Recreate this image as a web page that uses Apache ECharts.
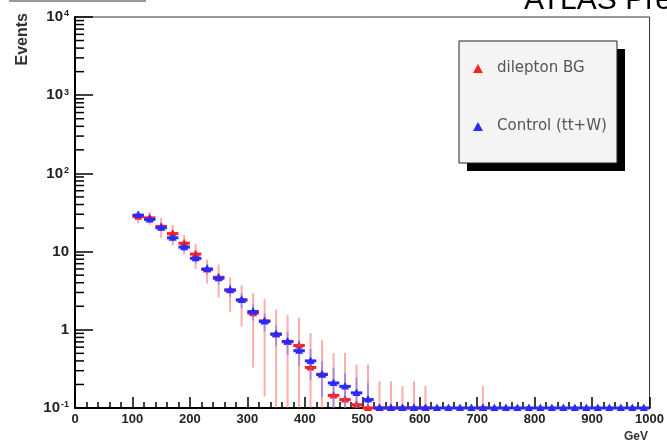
<!DOCTYPE html>
<html>
<head>
<meta charset="utf-8">
<script src="https://cdn.jsdelivr.net/npm/echarts@6/dist/echarts.min.js"></script>
<style>
html,body{margin:0;padding:0;background:#fff;}
#chart{width:667px;height:444px;}
</style>
</head>
<body>
<div id="chart"></div>
<script>
// ---- data ----
const binCenters = [110,130,150,170,190,210,230,250,270,290,310,330,350,370,390,410,430,450,470,490,
  510,530,550,570,590,610,630,650,670,690,710,730,750,770,790,810,830,850,870,890,910,930,950,970,990];
const binHalfWidth = 10;
const dileptonBG = [28,27,21,17,12.8,9.3,5.9,4.7,3.2,2.4,1.63,1.3,0.88,0.7,0.63,0.33,0.27,0.145,0.128,0.11,
  0.1,0.1,0.1,0.1,0.1,0.1,null,null,null,null,0.1,null,null,null,null,null,null,null,null,null,null,null,null,null,null];
const dileptonErr = [5,5,6,5,3.5,3.3,2,2.1,1.5,1.3,1.3,1.16,0.92,0.84,0.79,0.58,0.47,0.36,0.38,0.25,
  0.26,0.12,0.12,0.09,0.12,0.09,null,null,null,null,0.09,null,null,null,null,null,null,null,null,null,null,null,null,null,null];
const controlTTW = [29.3,25.8,20.2,15.0,11.4,8.2,6.0,4.56,3.24,2.41,1.71,1.28,0.88,0.71,0.54,0.40,0.267,0.209,0.189,0.156,
  0.128,0.1,0.1,0.1,0.1,0.1,0.1,0.1,0.1,0.1,0.1,0.1,0.1,0.1,0.1,0.1,0.1,0.1,0.1,0.1,0.1,0.1,0.1,0.1,0.1];
const controlErr = [2.5,2.3,2,1.7,1.4,1.1,0.9,0.75,0.6,0.5,0.4,0.33,0.26,0.23,0.2,0.17,0.13,0.12,0.09,0.09,
  0.08,0,0,0,0,0,0,0,0,0,0,0,0,0,0,0,0,0,0,0,0,0,0,0,0];
const seriesNames = ['dilepton BG', 'Control (tt+W)'];
const yTickValues = [0.1, 1, 10, 100, 1000, 10000];
const xTickLabels = ['0','100','200','300','400','500','600','700','800','900','1000'];
const yMin = 0.1, yMax = 10000;

// ---- helpers ----
function toData(vals, errs) {
  return binCenters.map((x, i) => vals[i] == null ? null : [x, vals[i], errs[i] || 0]).filter(Boolean);
}
function errRender(solid, light) {
  return function (params, api) {
    const x = api.value(0), v = api.value(1), e = api.value(2);
    const c = api.coord([x, v]);
    const l = api.coord([x - binHalfWidth, v]);
    const r = api.coord([x + binHalfWidth, v]);
    const hi = api.coord([x, Math.min(v + e, yMax)]);
    const lo = api.coord([x, Math.max(v - e, yMin)]);
    const children = [];
    if (e > 0) {
      children.push({type:'line', shape:{x1:c[0], y1:hi[1], x2:c[0], y2:lo[1]},
        style:{stroke:light, lineWidth:2}});
    }
    children.push({type:'line', shape:{x1:l[0], y1:c[1], x2:r[0], y2:c[1]},
      style:{stroke:solid, lineWidth:3}});
    children.push({type:'polygon', shape:{points:[[c[0], c[1]-4.5],[c[0]-4, c[1]+3],[c[0]+4, c[1]+3]]},
      style:{fill:solid}});
    return {type:'group', children};
  };
}
const yMinorTicks = [];
for (let k = -1; k < 4; k++) for (let m = 2; m <= 9; m++) yMinorTicks.push([0, m * Math.pow(10, k)]);

function yLabel(v) {
  const ex = Math.round(Math.log10(v));
  if (ex === 0) return '{b|1}';
  if (ex === 1) return '{b|10}';
  return '{b|10}{s|' + ex + '}';
}

const chart = echarts.init(document.getElementById('chart'), null, {renderer:'canvas'});
const fontF = '"Liberation Sans", Arial, sans-serif';
chart.setOption({
  backgroundColor: '#ffffff',
  animation: false,
  grid: {left:75, right:13, top:17, bottom:36, show:true, borderColor:'#333', borderWidth:1, backgroundColor:'transparent'},
  xAxis: {
    type:'value', min:0, max:1000, interval:100,
    axisLine:{show:true, onZero:false, lineStyle:{color:'#000', width:2}},
    axisTick:{show:true, inside:true, length:11, lineStyle:{color:'#000', width:1.5}},
    minorTick:{show:true, splitNumber:5, length:6, lineStyle:{color:'#000', width:1.5}},
    splitLine:{show:false},
    axisLabel:{margin:5, fontFamily:fontF, fontWeight:'bold', fontSize:13, color:'#222',
      formatter: (v) => xTickLabels[Math.round(v / 100)]}
  },
  yAxis: {
    type:'log', logBase:10, min:yMin, max:yMax,
    axisLine:{show:true, lineStyle:{color:'#000', width:2}},
    axisTick:{show:true, inside:true, length:18, lineStyle:{color:'#000', width:1.5}},
    splitLine:{show:false},
    axisLabel:{margin:6, formatter: yLabel,
      rich:{
        b:{fontFamily:fontF, fontWeight:'bold', fontSize:15, color:'#222'},
        s:{fontFamily:fontF, fontWeight:'bold', fontSize:9, color:'#222', verticalAlign:'top', padding:[0,0,0,1]}
      }}
  },
  legend: {
    data:[{name:seriesNames[0], icon:'triangle'},{name:seriesNames[1], icon:'triangle'}],
    orient:'vertical', left:473, top:61, padding:0, itemWidth:10, itemHeight:9, itemGap:43,
    selectedMode:false, z:10,
    textStyle:{fontFamily:'"DejaVu Sans", sans-serif', fontSize:15, color:'#555', padding:[0,0,0,9]}
  },
  graphic: [
    {type:'line', z:1, shape:{x1:9, y1:1, x2:146, y2:1}, style:{stroke:'#777', lineWidth:1.5}},
    {type:'text', z:1, left:524, top:-14, style:{text:'ATLAS Preliminary', fontFamily:fontF, fontSize:30, fill:'#000'}},
    {type:'rect', z:1, shape:{x:467, y:49, width:158, height:122}, style:{fill:'#000'}},
    {type:'rect', z:2, shape:{x:459, y:41, width:158, height:122}, style:{fill:'#f4f4f4', stroke:'#222', lineWidth:1}},
    {type:'text', z:1, x:15, y:13, rotation:Math.PI/2, style:{text:'Events', fontFamily:fontF, fontWeight:'bold',
      fontSize:16, fill:'#333', align:'right', verticalAlign:'top'}},
    {type:'text', z:1, x:648, y:431, style:{text:'GeV', fontFamily:fontF, fontWeight:'bold', fontSize:12,
      fill:'#333', align:'right', verticalAlign:'top'}}
  ],
  series: [
    {name:'yMinorTicks', type:'custom', silent:true, data:yMinorTicks, z:3,
      renderItem:(params, api) => {
        const p = api.coord([0, api.value(1)]);
        return {type:'line', shape:{x1:p[0], y1:p[1], x2:p[0]+9, y2:p[1]}, style:{stroke:'#000', lineWidth:1.5}};
      }},
    {name:seriesNames[0], type:'custom', data:toData(dileptonBG, dileptonErr), itemStyle:{color:'#ff2020'},
      renderItem:errRender('#ff2020', 'rgba(255,90,90,0.5)'), z:4},
    {name:seriesNames[1], type:'custom', data:toData(controlTTW, controlErr), itemStyle:{color:'#2a2aff'},
      renderItem:errRender('#2a2aff', 'rgba(110,110,255,0.55)'), z:5}
  ]
});
</script>
</body>
</html>
